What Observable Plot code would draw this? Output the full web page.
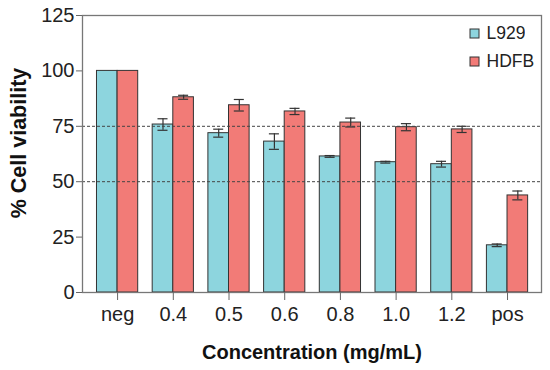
<!DOCTYPE html>
<html>
<head>
<meta charset="utf-8">
<script src="https://cdn.jsdelivr.net/npm/d3@7"></script>
<script src="https://cdn.jsdelivr.net/npm/@observablehq/plot@0.6"></script>
<style>
  body { margin: 0; background: #fff; }
  #wrap { position: relative; width: 550px; height: 370px; font-family: "Liberation Sans", Arial, sans-serif; }
  #legend { position: absolute; left: 470px; top: 20px; }
  .leg-swatch { height: 27.5px; line-height: 27.5px; padding-bottom: 0 !important; }
  .leg-swatch svg { overflow: visible; margin-right: 7.5px !important; }
  .leg-swatch svg rect { stroke: #333; stroke-width: 1; }
</style>
</head>
<body>
<div id="wrap"><div id="chart"></div><div id="legend"></div></div>
<script>
const categories = ["neg", "0.4", "0.5", "0.6", "0.8", "1.0", "1.2", "pos"];
const series = ["L929", "HDFB"];
const colors = ["#8dd5de", "#f27b77"];
const l929 = [100, 75.8, 71.9, 68.1, 61.4, 58.8, 57.9, 21.3];
const l929Err = [0, 2.6, 1.8, 3.5, 0.4, 0.4, 1.3, 0.6];
const hdfb = [100, 88.1, 84.5, 81.7, 76.7, 74.6, 73.6, 43.8];
const hdfbErr = [0, 0.9, 2.6, 1.4, 2.0, 1.6, 1.4, 2.0];
const yTicks = [0, 25, 50, 75, 100, 125];
const refLines = [50, 75];

const barW = 0.37;   // bar width in category units
const capW = 0.09;   // half width of error caps

const data = [];
categories.forEach((c, i) => {
  data.push({cat: c, i, series: "L929", k: 0, v: l929[i], e: l929Err[i]});
  data.push({cat: c, i, series: "HDFB", k: 1, v: hdfb[i], e: hdfbErr[i]});
});
const errs = data.filter(d => d.e > 0);
const x1 = d => d.i - barW + d.k * barW;
const xc = d => d.i - barW / 2 + d.k * barW;

const chart = Plot.plot({
  width: 550,
  height: 370,
  marginLeft: 82,
  marginRight: 9,
  marginTop: 15,
  marginBottom: 78,
  style: {fontFamily: "'Liberation Sans', Arial, sans-serif", fontSize: "20px", background: "#fff"},
  x: {type: "linear", domain: [-0.63, 7.61], axis: null},
  y: {domain: [0, 125], axis: null},
  color: {domain: series, range: colors},
  marks: [
    Plot.rectY(data, {x1, x2: d => x1(d) + barW, y1: 0, y2: "v", fill: "series", stroke: "#333", strokeWidth: 1}),
    Plot.ruleX(errs, {x: xc, y1: d => d.v - d.e, y2: d => d.v + d.e, stroke: "#333", strokeWidth: 1.2}),
    Plot.ruleY(errs, {y: d => d.v + d.e, x1: d => xc(d) - capW, x2: d => xc(d) + capW, stroke: "#333", strokeWidth: 1.2}),
    Plot.ruleY(errs, {y: d => d.v - d.e, x1: d => xc(d) - capW, x2: d => xc(d) + capW, stroke: "#333", strokeWidth: 1.2}),
    Plot.ruleY(refLines, {stroke: "#444", strokeWidth: 1, strokeDasharray: "3,2"}),
    Plot.frame({stroke: "#777", strokeWidth: 1.3}),
    Plot.axisY(yTicks, {tickSize: 6, tickPadding: 2, stroke: "#666", fill: "#222", label: null, fontSize: 20}),
    Plot.axisX(d3.range(categories.length), {tickFormat: i => categories[i], tickSize: 8, tickPadding: 6, stroke: "#666", fill: "#222", label: null, fontSize: 20}),
    Plot.text(["Concentration (mg/mL)"], {frameAnchor: "bottom", dy: 60.5, textAnchor: "middle", fontWeight: "bold", fontSize: 20, lineAnchor: "middle", fill: "#111"}),
    Plot.text(["% Cell viability"], {frameAnchor: "left", rotate: -90, dx: -63, dy: -11, textAnchor: "middle", fontWeight: "bold", fontSize: 21.5, lineAnchor: "middle", fill: "#111"})
  ]
});
document.getElementById("chart").appendChild(chart);

const legend = Plot.legend({
  color: {domain: series, range: colors},
  className: "leg",
  columns: 1,
  swatchSize: 9,
  style: {fontSize: "17.5px", fontFamily: "'Liberation Sans', Arial, sans-serif", color: "#222"}
});
document.getElementById("legend").appendChild(legend);
</script>
</body>
</html>
